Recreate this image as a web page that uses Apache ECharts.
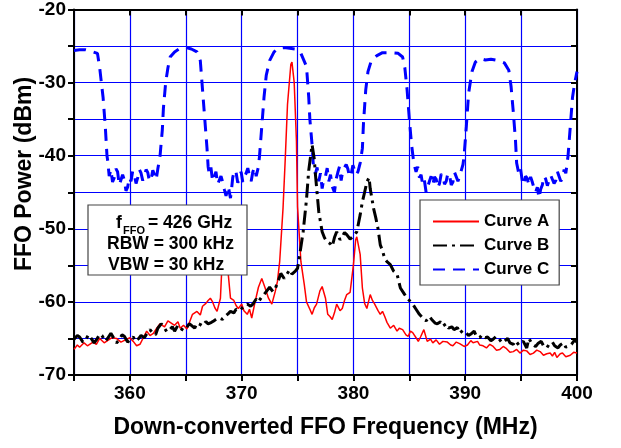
<!DOCTYPE html>
<html>
<head>
<meta charset="utf-8">
<script src="https://cdn.jsdelivr.net/npm/echarts@6/dist/echarts.min.js"></script>
<style>
html,body{margin:0;padding:0;background:#fff;}
#chart{width:621px;height:448px;}
</style>
</head>
<body>
<div id="chart"></div>
<script>
// Frequency axis (MHz) and power axis (dBm)
var xMin = 355, xMax = 400, xStep = 5;
var yMin = -70, yMax = -20, yStep = 5;
var seriesNames = ['Curve A', 'Curve B', 'Curve C'];
var xTitle = 'Down-converted FFO Frequency (MHz)';
var yTitle = 'FFO Power (dBm)';

var curveA = [
[355.0,-66.5],[355.3,-65.9],[355.5,-66.2],[355.9,-65.6],[356.2,-66.0],[356.7,-65.5],[357.0,-65.8],[357.3,-65.0],
[357.7,-65.6],[358.0,-65.3],[358.4,-64.9],[358.8,-65.0],[359.2,-65.5],[359.6,-65.2],[360.0,-64.9],[360.3,-65.4],
[360.6,-66.0],[360.9,-65.8],[361.2,-64.9],[361.5,-64.0],[361.8,-64.6],[362.1,-64.3],[362.4,-63.6],[362.7,-63.0],
[363.1,-63.4],[363.4,-62.6],[363.6,-62.8],[364.0,-63.2],[364.3,-62.7],[364.5,-63.6],[364.8,-63.2],[365.1,-63.7],
[365.4,-62.5],[365.6,-61.7],[366.0,-61.3],[366.3,-61.8],[366.5,-60.6],[366.8,-60.2],[367.0,-59.8],[367.2,-59.5],
[367.4,-60.0],[367.6,-60.8],[367.8,-61.3],[368.1,-59.5],[368.2,-56.2],[368.4,-51.0],[368.6,-50.0],[368.8,-56.2],
[369.0,-59.5],[369.3,-59.8],[369.5,-60.5],[369.7,-60.9],[370.0,-60.3],[370.2,-61.2],[370.5,-61.7],[370.7,-61.0],
[370.9,-62.2],[371.2,-60.0],[371.5,-58.0],[371.8,-56.8],[372.1,-58.1],[372.4,-59.5],[372.7,-60.3],[373.0,-58.6],
[373.2,-57.2],[373.4,-54.5],[373.7,-47.2],[373.9,-40.4],[374.1,-33.0],[374.4,-27.5],[374.5,-27.2],[374.7,-30.0],
[374.9,-38.0],[375.0,-47.0],[375.3,-54.5],[375.6,-57.6],[375.8,-60.0],[376.1,-61.0],[376.3,-61.7],[376.5,-60.8],
[376.7,-60.3],[377.0,-58.5],[377.2,-57.9],[377.5,-59.5],[377.7,-61.7],[377.9,-62.0],[378.1,-62.4],[378.3,-61.5],
[378.5,-60.3],[378.8,-61.2],[379.0,-60.9],[379.2,-59.8],[379.4,-59.0],[379.7,-58.7],[380.0,-54.9],[380.2,-51.5],
[380.3,-51.1],[380.6,-53.5],[380.8,-58.1],[381.0,-60.2],[381.2,-60.9],[381.5,-59.0],[381.7,-59.8],[381.9,-60.3],
[382.2,-61.2],[382.4,-61.7],[382.6,-61.3],[382.8,-62.0],[383.0,-62.8],[383.3,-63.6],[383.6,-63.2],[383.9,-64.0],
[384.1,-63.6],[384.4,-63.8],[384.7,-64.5],[384.9,-64.7],[385.1,-64.0],[385.3,-64.2],[385.6,-64.9],[385.8,-65.4],
[386.0,-64.8],[386.3,-63.8],[386.6,-65.4],[386.9,-65.1],[387.1,-65.6],[387.4,-65.2],[387.7,-65.8],[388.0,-65.4],
[388.4,-65.5],[388.7,-65.9],[388.9,-66.0],[389.2,-65.5],[389.5,-65.7],[389.9,-66.1],[390.2,-65.9],[390.5,-65.3],
[390.7,-65.6],[391.1,-65.4],[391.3,-65.9],[391.6,-66.0],[391.9,-66.3],[392.2,-65.8],[392.5,-66.1],[392.8,-66.6],
[393.1,-66.5],[393.4,-66.1],[393.7,-66.4],[394.0,-66.9],[394.3,-66.8],[394.6,-66.5],[394.9,-67.0],[395.2,-66.6],
[395.5,-66.7],[395.8,-67.2],[396.1,-67.0],[396.4,-66.6],[396.7,-66.8],[397.0,-67.3],[397.3,-67.1],[397.6,-67.0],
[397.8,-67.4],[398.0,-66.9],[398.2,-67.6],[398.5,-67.1],[398.7,-67.0],[399.0,-67.5],[399.4,-67.3],[399.7,-66.9],
[400.0,-67.0]
];

var curveB = [
[355.0,-65.1],[355.3,-64.6],[355.5,-64.8],[355.8,-65.5],[356.0,-65.3],[356.3,-64.5],[356.5,-64.9],[356.8,-65.6],
[357.0,-65.2],[357.3,-64.4],[357.5,-64.6],[357.8,-65.4],[358.0,-65.0],[358.3,-64.3],[358.5,-64.8],[358.8,-65.6],
[359.0,-65.3],[359.3,-64.5],[359.5,-64.7],[359.8,-65.5],[360.0,-65.2],[360.3,-64.8],[360.5,-65.4],[360.8,-65.0],
[361.0,-64.6],[361.3,-64.9],[361.5,-64.4],[361.8,-63.8],[362.0,-64.2],[362.3,-64.5],[362.5,-63.6],[362.8,-63.0],
[363.0,-63.3],[363.3,-64.1],[363.5,-63.9],[363.8,-63.4],[364.0,-64.0],[364.3,-63.2],[364.5,-63.6],[364.8,-63.9],
[365.0,-63.7],[365.3,-63.0],[365.5,-63.2],[365.8,-63.6],[366.0,-62.9],[366.3,-63.1],[366.5,-63.3],[366.8,-62.7],
[367.0,-63.0],[367.3,-62.8],[367.5,-62.6],[367.8,-62.3],[368.0,-62.2],[368.3,-62.4],[368.5,-62.0],[368.8,-61.6],
[369.0,-61.3],[369.3,-61.5],[369.5,-61.0],[369.8,-61.2],[370.0,-60.9],[370.3,-60.5],[370.5,-60.3],[370.8,-60.6],
[371.0,-60.3],[371.3,-59.6],[371.5,-60.0],[371.8,-59.3],[372.0,-59.0],[372.3,-58.4],[372.5,-58.0],[372.8,-58.6],
[373.0,-58.2],[373.3,-57.0],[373.5,-56.1],[373.8,-56.8],[374.0,-56.3],[374.3,-55.6],[374.5,-56.2],[374.8,-55.8],
[375.0,-55.4],[375.2,-53.5],[375.5,-50.4],[375.8,-46.0],[376.0,-42.0],[376.3,-38.5],[376.5,-40.5],[376.6,-42.6],
[376.9,-47.7],[377.2,-50.4],[377.4,-51.2],[377.6,-51.7],[377.9,-52.0],[378.1,-52.4],[378.3,-51.2],[378.5,-50.4],
[378.8,-51.5],[379.0,-51.1],[379.2,-50.5],[379.4,-50.8],[379.7,-51.4],[380.0,-51.0],[380.3,-50.4],[380.6,-48.1],
[380.8,-46.3],[381.0,-45.0],[381.2,-43.6],[381.4,-43.0],[381.5,-44.5],[381.8,-47.2],[382.0,-48.5],[382.2,-50.0],
[382.4,-52.2],[382.6,-53.0],[382.8,-54.1],[383.0,-54.5],[383.3,-54.9],[383.6,-55.8],[383.9,-56.2],[384.2,-58.1],
[384.5,-58.8],[384.8,-59.5],[385.0,-59.8],[385.3,-60.3],[385.6,-61.0],[385.9,-61.7],[386.2,-62.2],[386.5,-62.6],
[386.8,-62.0],[387.0,-62.4],[387.3,-62.9],[387.5,-63.0],[387.8,-62.7],[388.0,-63.3],[388.3,-63.0],[388.5,-63.6],
[388.8,-63.4],[389.0,-63.8],[389.3,-63.5],[389.5,-64.3],[389.8,-63.9],[390.0,-64.1],[390.3,-64.6],[390.5,-64.4],
[390.8,-64.0],[391.0,-64.7],[391.3,-64.9],[391.5,-64.5],[391.8,-64.9],[392.0,-64.8],[392.3,-65.3],[392.5,-65.1],
[392.8,-64.7],[393.0,-65.0],[393.3,-65.6],[393.5,-65.4],[393.8,-65.0],[394.0,-65.6],[394.3,-65.8],[394.5,-65.3],
[394.8,-65.9],[395.0,-65.6],[395.2,-65.4],[395.5,-66.3],[395.7,-65.0],[395.8,-64.9],[396.0,-65.8],[396.3,-66.1],
[396.5,-65.7],[396.8,-65.4],[397.0,-66.0],[397.3,-66.3],[397.5,-65.8],[397.8,-65.5],[398.0,-66.0],[398.3,-66.3],
[398.5,-65.9],[398.8,-65.6],[399.0,-66.2],[399.3,-66.0],[399.5,-65.8],[399.8,-65.2],[400.0,-65.5]
];

var curveC = [
[355.0,-25.6],[355.5,-25.5],[356.0,-25.5],[356.5,-25.7],[357.1,-26.0],[357.3,-28.0],[357.6,-32.0],
[357.8,-36.0],[357.95,-40.0],[358.0,-40.5],[358.15,-42.8],[358.3,-41.9],[358.45,-43.6],[358.6,-43.0],[358.75,-41.8],
[358.9,-42.2],[359.05,-44.0],[359.2,-43.8],[359.35,-42.6],[359.5,-43.3],[359.65,-44.8],[359.8,-44.3],[359.95,-43.0],
[360.1,-43.5],[360.25,-42.1],[360.4,-42.6],[360.55,-43.8],[360.7,-43.0],[360.85,-41.9],[361.0,-42.4],[361.15,-43.4],
[361.3,-42.8],[361.45,-41.9],[361.6,-42.3],[361.75,-43.5],[361.9,-43.2],[362.05,-42.0],[362.2,-42.6],[362.35,-43.3],
[362.5,-41.8],[362.7,-40.0],[362.9,-36.5],[363.0,-33.5],
[363.2,-30.0],[363.4,-28.0],[363.6,-26.5],[364.0,-25.8],[364.5,-25.3],[365.0,-25.2],[365.5,-25.4],
[366.0,-25.8],[366.3,-27.0],[366.5,-31.0],[366.7,-35.0],[366.9,-39.0],[367.0,-41.5],[367.1,-42.5],[367.25,-41.6],
[367.4,-43.5],[367.55,-42.9],[367.7,-42.2],[367.85,-43.9],[368.0,-44.0],[368.15,-42.8],[368.3,-43.6],[368.45,-44.6],
[368.6,-45.5],[368.8,-44.2],[369.0,-45.8],[369.1,-44.5],[369.2,-43.0],[369.35,-42.0],[369.5,-42.3],[369.65,-43.7],
[369.8,-43.2],[369.95,-42.2],[370.1,-43.6],[370.25,-42.9],[370.4,-42.4],[370.55,-41.7],[370.7,-42.8],[370.85,-43.5],
[371.0,-42.2],[371.15,-41.6],[371.3,-42.8],
[371.5,-41.5],[371.6,-40.0],[371.8,-36.0],[372.0,-32.0],[372.2,-29.0],[372.5,-27.0],[372.9,-25.8],
[373.3,-25.3],[373.8,-25.2],[374.3,-25.3],[374.8,-25.4],[375.3,-26.0],[375.8,-27.8],[376.0,-32.0],
[376.1,-35.0],[376.3,-38.5],[376.4,-41.0],[376.6,-42.5],[376.75,-41.6],[376.9,-43.5],[377.05,-42.4],[377.2,-44.5],
[377.35,-43.1],[377.5,-42.8],[377.65,-41.7],[377.8,-43.5],[377.95,-42.6],[378.1,-44.2],[378.3,-45.0],[378.45,-43.2],
[378.6,-42.3],[378.75,-41.5],[378.9,-43.4],[379.05,-42.0],[379.2,-42.2],[379.35,-41.2],[379.5,-41.8],[379.65,-42.9],
[379.8,-42.5],[379.95,-41.3],[380.1,-41.5],[380.25,-42.6],[380.4,-42.2],[380.6,-41.0],[380.8,-39.0],[380.9,-35.5],
[381.1,-31.0],[381.3,-28.5],[381.6,-27.0],[382.1,-26.3],[382.6,-25.9],[383.2,-25.9],[384.0,-26.0],[384.4,-26.5],
[384.6,-28.0],[384.8,-31.0],[385.0,-35.0],[385.2,-38.5],[385.4,-41.0],[385.6,-42.2],[385.75,-41.5],[385.9,-43.0],
[386.05,-42.6],[386.2,-44.0],[386.35,-43.4],[386.5,-45.0],[386.65,-44.2],[386.8,-43.5],[386.95,-42.8],[387.1,-44.0],
[387.25,-42.9],[387.4,-43.2],[387.55,-44.4],[387.7,-43.8],[387.85,-42.5],[388.0,-42.8],[388.15,-43.9],[388.3,-43.5],
[388.45,-42.4],[388.6,-42.7],[388.75,-44.0],[388.9,-43.6],[389.05,-42.3],[389.2,-42.4],[389.35,-43.5],[389.5,-42.8],
[389.8,-41.2],[389.9,-40.0],[390.1,-36.0],[390.3,-31.5],[390.6,-28.5],[390.9,-27.2],[391.3,-26.7],[391.8,-26.9],
[392.3,-26.8],[393.0,-27.0],[393.5,-27.3],[393.9,-28.3],[394.1,-30.5],[394.3,-34.0],[394.5,-38.0],[394.6,-41.0],
[394.8,-42.5],[394.95,-41.8],[395.1,-43.4],[395.25,-44.0],[395.4,-42.8],[395.55,-43.1],[395.7,-44.0],[395.85,-42.9],
[396.0,-43.6],[396.15,-44.4],[396.3,-45.0],[396.45,-44.3],[396.6,-45.8],[396.75,-44.6],[396.9,-44.0],[397.05,-42.8],
[397.2,-43.2],[397.35,-44.1],[397.5,-44.0],[397.65,-42.7],[397.8,-42.6],[397.95,-43.8],[398.1,-43.4],[398.25,-42.2],
[398.4,-42.3],[398.55,-43.5],[398.7,-43.0],[398.85,-41.9],[399.0,-42.4],[399.2,-40.0],[399.4,-36.0],[399.6,-32.0],
[399.8,-30.0],[400.0,-28.5]
];

var FONT = 'Arial, "Liberation Sans", Helvetica, sans-serif';
var chart = echarts.init(document.getElementById('chart'), null, {renderer: 'canvas'});

function tenLabel(v) { return (Math.round(v) % 10 === 0) ? String(Math.round(v)) : ''; }

var gridLine = {show: true, lineStyle: {color: '#0000ff', width: 1.2}};

chart.setOption({
  animation: false,
  backgroundColor: '#fff',
  grid: {left: 74, right: 44, top: 6, bottom: 73, containLabel: false},
  xAxis: [{
    type: 'value', min: xMin, max: xMax, interval: xStep, position: 'bottom',
    name: xTitle, nameLocation: 'middle', nameGap: 41,
    nameTextStyle: {fontFamily: FONT, fontWeight: 'bold', fontSize: 23, color: '#000'},
    axisLine: {show: true, onZero: false, lineStyle: {color: '#000', width: 2}},
    axisTick: {show: true, inside: false, length: 6, lineStyle: {color: '#000', width: 2}},
    axisLabel: {formatter: tenLabel, margin: 9, fontFamily: FONT, fontWeight: 'bold', fontSize: 19, color: '#000'},
    splitLine: gridLine
  }, {
    type: 'value', min: xMin, max: xMax, interval: xStep, position: 'top',
    axisLine: {show: true, onZero: false, lineStyle: {color: '#000', width: 2}},
    axisTick: {show: true, inside: true, length: 6, lineStyle: {color: '#000', width: 2}},
    axisLabel: {show: false}, splitLine: {show: false}
  }],
  yAxis: [{
    type: 'value', min: yMin, max: yMax, interval: yStep, position: 'left',
    axisLine: {show: true, onZero: false, lineStyle: {color: '#000', width: 2}},
    axisTick: {show: true, inside: false, length: 6, lineStyle: {color: '#000', width: 2}},
    axisLabel: {formatter: tenLabel, margin: 8, fontFamily: FONT, fontWeight: 'bold', fontSize: 19, color: '#000'},
    splitLine: gridLine
  }, {
    type: 'value', min: yMin, max: yMax, interval: yStep, position: 'right',
    axisLine: {show: true, onZero: false, lineStyle: {color: '#000', width: 2}},
    axisTick: {show: true, inside: true, length: 6, lineStyle: {color: '#000', width: 2}},
    axisLabel: {show: false}, splitLine: {show: false}
  }],
  legend: {
    data: seriesNames, orient: 'vertical', left: 420, top: 200,
    itemWidth: 46, itemHeight: 14, itemGap: 7,
    padding: [13, 10, 7, 12],
    backgroundColor: '#fff', borderColor: '#444', borderWidth: 1.2,
    itemStyle: {opacity: 0},
    textStyle: {fontFamily: FONT, fontWeight: 'bold', fontSize: 17, color: '#000'},
    selectedMode: false
  },
  series: [{
    name: seriesNames[0], type: 'line', data: curveA, showSymbol: false, symbol: 'none',
    lineStyle: {color: '#ff0000', width: 1.5, type: 'solid'}, itemStyle: {color: '#ff0000'}, z: 3
  }, {
    name: seriesNames[1], type: 'line', data: curveB, showSymbol: false, symbol: 'none',
    lineStyle: {color: '#000', width: 3, type: [14, 5, 3, 5]}, itemStyle: {color: '#000'}, z: 4
  }, {
    name: seriesNames[2], type: 'line', data: curveC, showSymbol: false, symbol: 'none',
    lineStyle: {color: '#0000ff', width: 3, type: [12, 8]}, itemStyle: {color: '#0000ff'}, z: 2
  }],
  graphic: [
    {type: 'text', x: 25, y: 174, rotation: Math.PI / 2, z: 10,
     style: {text: yTitle, font: 'bold 23px ' + FONT, fill: '#000', align: 'center', verticalAlign: 'middle'}},
    {type: 'rect', shape: {x: 88, y: 205, width: 159, height: 70}, z: 20,
     style: {fill: '#fff', stroke: '#444', lineWidth: 1.2}},
    {type: 'text', x: 116, y: 223, z: 21,
     style: {text: 'f', font: 'bold 17.5px ' + FONT, fill: '#000', align: 'left', verticalAlign: 'middle'}},
    {type: 'text', x: 123, y: 231, z: 21,
     style: {text: 'FFO', font: 'bold 11px ' + FONT, fill: '#000', align: 'left', verticalAlign: 'middle'}},
    {type: 'text', x: 148, y: 223, z: 21,
     style: {text: '= 426 GHz', font: 'bold 17.5px ' + FONT, fill: '#000', align: 'left', verticalAlign: 'middle'}},
    {type: 'text', x: 107, y: 244, z: 21,
     style: {text: 'RBW = 300 kHz', font: 'bold 17.5px ' + FONT, fill: '#000', align: 'left', verticalAlign: 'middle'}},
    {type: 'text', x: 108, y: 265, z: 21,
     style: {text: 'VBW = 30 kHz', font: 'bold 17.5px ' + FONT, fill: '#000', align: 'left', verticalAlign: 'middle'}}
  ]
});
</script>
</body>
</html>
